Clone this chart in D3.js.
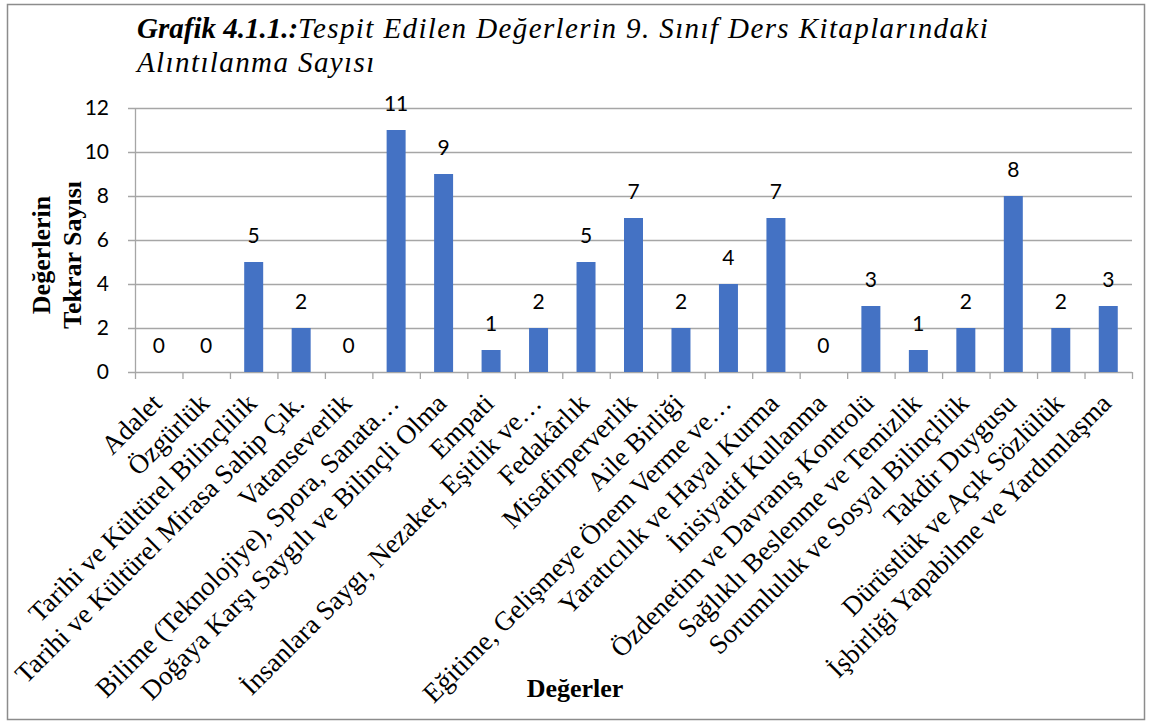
<!DOCTYPE html>
<html>
<head>
<meta charset="utf-8">
<script src="https://cdn.jsdelivr.net/npm/d3@7"></script>
<style>
  body { margin: 0; background: #fff; }
  svg { display: block; }
</style>
</head>
<body>
<svg width="1152" height="722"></svg>
<script>

var categories = [
  "Adalet", "Özgürlük", "Tarihi ve Kültürel Bilinçlilik",
  "Tarihi ve Kültürel Mirasa Sahip Çık.", "Vatanseverlik",
  "Bilime (Teknolojiye), Spora, Sanata…", "Doğaya Karşı Saygılı ve Bilinçli Olma",
  "Empati", "İnsanlara Saygı, Nezaket, Eşitlik ve…", "Fedakârlık",
  "Misafirperverlik", "Aile Birliği", "Eğitime, Gelişmeye Önem Verme ve…",
  "Yaratıcılık ve Hayal Kurma", "İnisiyatif Kullanma", "Özdenetim ve Davranış Kontrolü",
  "Sağlıklı Beslenme ve Temizlik", "Sorumluluk ve Sosyal Bilinçlilik",
  "Takdir Duygusu", "Dürüstlük ve Açık Sözlülük", "İşbirliği Yapabilme ve Yardımlaşma"
];

var counts = [0, 0, 5, 2, 0, 11, 9, 1, 2, 5, 7, 2, 4, 7, 0, 3, 1, 2, 8, 2, 3];

var yTicks = [0, 2, 4, 6, 8, 10, 12];

var titleBold = "Grafik 4.1.1.:";
var titleRest = "Tespit Edilen Değerlerin 9. Sınıf Ders Kitaplarındaki";
var titleLine2 = "Alıntılanma Sayısı";
var yTitle = ["Değerlerin", "Tekrar Sayısı"];
var xTitle = "Değerler";

var svg = d3.select("svg");

var serif = "'Liberation Serif', 'Times New Roman', serif";
var numFont = "Lato, Carlito, Calibri, sans-serif";
var gridColor = "#a6a6a6";

// plot area (note: "top" is taken by window.top, so prefix these)
var plotLeft = 135, plotRight = 1132, plotTop = 108, plotBottom = 372;

// outer frame
svg.append("rect")
  .attr("x", 7.5).attr("y", 4.5)
  .attr("width", 1137).attr("height", 715)
  .attr("fill", "none")
  .attr("stroke", "#8c8c8c")
  .attr("stroke-width", 1.5);

var xScale = d3.scaleBand()
  .domain(categories)
  .range([plotLeft, plotRight]);

var yScale = d3.scaleLinear()
  .domain([0, 12])
  .range([plotBottom, plotTop]);

// gridlines
svg.append("g")
  .selectAll("line")
  .data(yTicks)
  .enter().append("line")
  .attr("x1", plotLeft - 7).attr("x2", plotRight)
  .attr("y1", function(d) { return yScale(d) + 0.5; })
  .attr("y2", function(d) { return yScale(d) + 0.5; })
  .attr("stroke", gridColor)
  .attr("stroke-width", 1.3);

// y axis line
svg.append("line")
  .attr("x1", plotLeft + 0.5).attr("x2", plotLeft + 0.5)
  .attr("y1", plotTop).attr("y2", plotBottom)
  .attr("stroke", gridColor)
  .attr("stroke-width", 1.3);

// y tick labels
svg.append("g")
  .selectAll("text")
  .data(yTicks)
  .enter().append("text")
  .attr("x", plotLeft - 26)
  .attr("y", function(d) { return yScale(d); })
  .attr("dy", "0.35em")
  .style("font-family", numFont)
  .style("font-size", "21px")
  .style("text-anchor", "end")
  .text(function(d) { return d; });

// x tick marks at band edges
var edges = categories.map(function(d) { return xScale(d); });
edges.push(plotRight);
svg.append("g")
  .selectAll("line")
  .data(edges)
  .enter().append("line")
  .attr("x1", function(d) { return d + 0.5; })
  .attr("x2", function(d) { return d + 0.5; })
  .attr("y1", plotBottom).attr("y2", plotBottom + 7)
  .attr("stroke", gridColor)
  .attr("stroke-width", 1.3);

// bars
var barWidth = xScale.bandwidth() * 0.4;
svg.append("g")
  .selectAll("rect")
  .data(counts)
  .enter().append("rect")
  .attr("x", function(d, i) { return xScale(categories[i]) + (xScale.bandwidth() - barWidth) / 2; })
  .attr("y", function(d) { return yScale(d); })
  .attr("width", barWidth)
  .attr("height", function(d) { return plotBottom - yScale(d); })
  .attr("fill", "#4472C4");

// value labels
svg.append("g")
  .selectAll("text")
  .data(counts)
  .enter().append("text")
  .attr("x", function(d, i) { return xScale(categories[i]) + xScale.bandwidth() / 2; })
  .attr("y", function(d) { return yScale(d) - 19; })
  .style("font-family", numFont)
  .style("font-size", "21px")
  .style("text-anchor", "middle")
  .text(function(d) { return d; });

// rotated category labels, end of text sits under the band centre
svg.append("g")
  .selectAll("text")
  .data(categories)
  .enter().append("text")
  .attr("transform", function(d) {
    let cx = xScale(d) + xScale.bandwidth() / 2 + 4.5;
    return "translate(" + cx + "," + (plotBottom + 33) + ") rotate(-45)";
  })
  .style("font-family", serif)
  .style("font-size", "27px")
  .style("text-anchor", "end")
  .text(function(d) { return d; });

// title
var title = svg.append("text")
  .attr("x", 137)
  .attr("y", 38)
  .style("font-family", serif)
  .style("font-size", "29px")
  .style("font-style", "italic");
title.append("tspan").style("font-weight", "bold").text(titleBold);
title.append("tspan").style("letter-spacing", "1.4px").text(titleRest);

svg.append("text")
  .attr("x", 137)
  .attr("y", 72)
  .style("font-family", serif)
  .style("font-size", "29px")
  .style("font-style", "italic")
  .style("letter-spacing", "1.4px")
  .text(titleLine2);

// y axis title, two lines
svg.append("g")
  .selectAll("text")
  .data(yTitle)
  .enter().append("text")
  .attr("transform", function(d, i) {
    return "translate(" + (50 + i * 31) + ",255) rotate(-90)";
  })
  .style("font-family", serif)
  .style("font-size", "26px")
  .style("font-weight", "bold")
  .style("text-anchor", "middle")
  .text(function(d) { return d; });

// x axis title
svg.append("text")
  .attr("x", 575)
  .attr("y", 697)
  .style("font-family", serif)
  .style("font-size", "26px")
  .style("font-weight", "bold")
  .style("text-anchor", "middle")
  .text(xTitle);

</script>
</body>
</html>
